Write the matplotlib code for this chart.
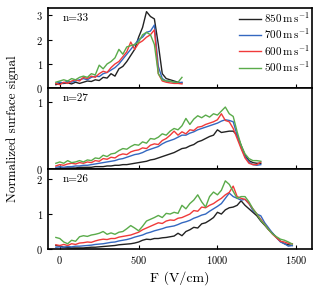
import numpy as np
import matplotlib
matplotlib.use("Agg")
import matplotlib.pyplot as plt

plt.rcParams['font.family'] = ['cmr10', 'DejaVu Serif']
plt.rcParams['mathtext.fontset'] = 'cm'
plt.rcParams['axes.formatter.use_mathtext'] = True

labels = [r'850$\,\mathrm{m\,s^{-1}}$', r'700$\,\mathrm{m\,s^{-1}}$',
          r'600$\,\mathrm{m\,s^{-1}}$', r'500$\,\mathrm{m\,s^{-1}}$']
colors = ['#222222', '#3468c0', '#f03a3a', '#5aab4a']
counts = ['n=33', 'n=27', 'n=26']

# ---- top panel ----
F_top = np.arange(-25, 776, 25)
top_850 = [0.15, 0.2, 0.2, 0.22, 0.18, 0.25, 0.2, 0.25, 0.3, 0.28, 0.35, 0.32, 0.45, 0.42, 0.6, 0.5,
           0.8, 0.9, 1.1, 1.35, 1.6, 2.1, 2.5, 3.15, 2.95, 2.85, 1.8, 0.6, 0.4, 0.35, 0.3, 0.25, 0.22]
top_700 = [0.2, 0.25, 0.22, 0.3, 0.25, 0.3, 0.35, 0.4, 0.35, 0.45, 0.5, 0.48, 0.6, 0.65, 0.75, 0.85,
           1.0, 1.2, 1.4, 1.6, 1.8, 2.0, 2.1, 2.3, 2.35, 2.6, 0.9, 0.4, 0.3, 0.28, 0.25, 0.22, 0.25]
top_600 = [0.2, 0.15, 0.25, 0.2, 0.3, 0.35, 0.3, 0.45, 0.4, 0.5, 0.45, 0.6, 0.7, 0.65, 0.85, 1.0,
           1.1, 1.3, 1.5, 1.9, 1.6, 1.85, 1.95, 2.1, 2.2, 2.4, 0.6, 0.3, 0.25, 0.22, 0.2, 0.2, 0.18]
top_500 = [0.25, 0.3, 0.35, 0.3, 0.4, 0.35, 0.45, 0.5, 0.45, 0.6, 0.55, 0.95, 0.8, 1.0, 1.1, 1.25,
           1.6, 1.4, 1.7, 1.75, 1.8, 1.9, 2.2, 2.3, 2.2, 1.8, 0.6, 0.35, 0.3, 0.3, 0.25, 0.25, 0.45]

# ---- middle panel ----
F_mid = np.arange(-25, 1276, 25)
mid_850 = [0.0, 0.01, 0.01, 0.01, 0.01, 0.01, 0.02, 0.02, 0.02, 0.02, 0.03, 0.03, 0.03, 0.04, 0.04,
           0.05, 0.05, 0.06, 0.06, 0.07, 0.08, 0.09, 0.1, 0.11, 0.13, 0.14, 0.16, 0.18, 0.2, 0.22,
           0.24, 0.27, 0.3, 0.31, 0.34, 0.36, 0.4, 0.42, 0.45, 0.48, 0.5, 0.58, 0.54, 0.55, 0.56,
           0.56, 0.5, 0.35, 0.2, 0.12, 0.09, 0.08, 0.08]
mid_700 = [0.02, 0.03, 0.02, 0.03, 0.03, 0.04, 0.04, 0.05, 0.05, 0.06, 0.07, 0.08, 0.09, 0.1, 0.11,
           0.12, 0.14, 0.15, 0.17, 0.19, 0.21, 0.22, 0.24, 0.27, 0.29, 0.31, 0.33, 0.37, 0.4, 0.42,
           0.44, 0.47, 0.5, 0.5, 0.53, 0.55, 0.58, 0.6, 0.62, 0.64, 0.66, 0.68, 0.71, 0.73, 0.72,
           0.7, 0.5, 0.32, 0.18, 0.1, 0.06, 0.05, 0.06]
mid_600 = [0.04, 0.06, 0.05, 0.07, 0.08, 0.07, 0.09, 0.08, 0.1, 0.09, 0.12, 0.11, 0.15, 0.14, 0.17,
           0.16, 0.2, 0.22, 0.21, 0.25, 0.27, 0.28, 0.31, 0.3, 0.35, 0.37, 0.36, 0.42, 0.45, 0.5,
           0.56, 0.5, 0.55, 0.52, 0.58, 0.57, 0.62, 0.63, 0.66, 0.68, 0.7, 0.73, 0.82, 0.72, 0.7,
           0.6, 0.45, 0.3, 0.16, 0.08, 0.06, 0.06, 0.1]
mid_500 = [0.08, 0.1, 0.08, 0.12, 0.09, 0.1, 0.12, 0.1, 0.13, 0.12, 0.16, 0.15, 0.2, 0.18, 0.22,
           0.23, 0.27, 0.3, 0.29, 0.33, 0.36, 0.35, 0.4, 0.38, 0.45, 0.44, 0.47, 0.52, 0.5, 0.56,
           0.6, 0.58, 0.64, 0.75, 0.66, 0.74, 0.79, 0.76, 0.8, 0.77, 0.82, 0.8, 0.86, 0.92, 0.82,
           0.78, 0.55, 0.35, 0.22, 0.15, 0.12, 0.12, 0.11]

# ---- bottom panel ----
F_bot = np.arange(-25, 1476, 25)
bot_850 = [0.1, 0.08, 0.05, 0.04, 0.03, 0.03, 0.03, 0.03, 0.04, 0.05, 0.05, 0.06, 0.07, 0.08, 0.09,
           0.1, 0.12, 0.13, 0.14, 0.15, 0.17, 0.2, 0.25, 0.28, 0.27, 0.3, 0.3, 0.32, 0.33, 0.35,
           0.37, 0.45, 0.38, 0.5, 0.55, 0.62, 0.6, 0.72, 0.75, 0.82, 0.9, 1.05, 1.0, 1.12, 1.18,
           1.2, 1.25, 1.38, 1.25, 1.15, 1.05, 0.95, 0.8, 0.68, 0.55, 0.45, 0.33, 0.22, 0.15, 0.12, 0.1]
bot_700 = [0.05, 0.06, 0.05, 0.07, 0.06, 0.08, 0.08, 0.09, 0.1, 0.11, 0.13, 0.14, 0.15, 0.17, 0.19,
           0.2, 0.23, 0.25, 0.27, 0.3, 0.34, 0.37, 0.4, 0.45, 0.48, 0.52, 0.55, 0.58, 0.62, 0.64,
           0.66, 0.7, 0.75, 0.78, 0.82, 0.88, 0.92, 0.97, 1.0, 1.08, 1.15, 1.22, 1.3, 1.45, 1.6,
           1.5, 1.45, 1.4, 1.42, 1.3, 1.1, 1.0, 0.95, 0.75, 0.6, 0.45, 0.32, 0.2, 0.15, 0.08, 0.1]
bot_600 = [0.12, 0.1, 0.13, 0.1, 0.15, 0.13, 0.17, 0.18, 0.2, 0.19, 0.23, 0.26, 0.28, 0.27, 0.3,
           0.3, 0.34, 0.36, 0.38, 0.4, 0.44, 0.48, 0.55, 0.6, 0.65, 0.7, 0.75, 0.73, 0.8, 0.83,
           0.82, 0.88, 0.9, 0.95, 1.0, 1.1, 1.08, 1.2, 1.18, 1.25, 1.3, 1.38, 1.45, 1.55, 1.62,
           1.8, 1.5, 1.45, 1.42, 1.3, 1.15, 1.0, 0.85, 0.7, 0.55, 0.42, 0.32, 0.22, 0.2, 0.16, 0.15]
bot_500 = [0.33, 0.3, 0.2, 0.15, 0.25, 0.22, 0.35, 0.38, 0.36, 0.4, 0.42, 0.45, 0.5, 0.42, 0.46,
           0.42, 0.48, 0.5, 0.58, 0.67, 0.6, 0.52, 0.65, 0.8, 0.85, 0.9, 0.96, 0.9, 1.02, 1.0,
           1.05, 1.02, 1.25, 1.15, 1.3, 1.4, 1.55, 1.35, 1.2, 1.5, 1.63, 1.55, 1.68, 1.95, 1.85,
           1.65, 1.45, 1.5, 1.5, 1.35, 1.15, 1.0, 0.82, 0.7, 0.55, 0.43, 0.35, 0.28, 0.25, 0.2, 0.14]

panels = [
    (F_top, [top_850, top_700, top_600, top_500], (0, 3.3), [0, 1, 2, 3]),
    (F_mid, [mid_850, mid_700, mid_600, mid_500], (0, 1.2), [0, 1]),
    (F_bot, [bot_850, bot_700, bot_600, bot_500], (0, 2.3), [0, 1, 2]),
]

fig = plt.figure(figsize=(3.22, 2.95), dpi=100)
axes = fig.subplots(3, 1, sharex=True)
fig.subplots_adjust(left=0.149, right=0.969, top=0.973, bottom=0.156, hspace=0)

for ax, (F, series, ylim, yt), cnt in zip(axes, panels, counts):
    for ys, c, lab in zip(series, colors, labels):
        ax.plot(F, ys, color=c, lw=1.0, label=lab)
    ax.set_ylim(*ylim)
    ax.set_yticks(yt)
    ax.set_xlim(-75, 1600)
    ax.set_xticks([0, 500, 1000, 1500])
    ax.tick_params(direction='in', labelsize=7.5, length=3, width=0.8)
    for s in ax.spines.values():
        s.set_linewidth(1.2)
    ax.text(0.055, 0.93, cnt, transform=ax.transAxes, fontsize=8, va='top', ha='left')

axes[0].legend(loc='upper right', frameon=False, fontsize=8, handlelength=2.0,
               handletextpad=0.3, labelspacing=0.15, borderaxespad=0.0, borderpad=0.2)
axes[2].set_xlabel('F (V/cm)', fontsize=10)
fig.text(0.04, 0.565, 'Normalized surface signal', rotation=90, fontsize=9.5,
         ha='center', va='center')

fig.savefig('out.png', dpi=100)
